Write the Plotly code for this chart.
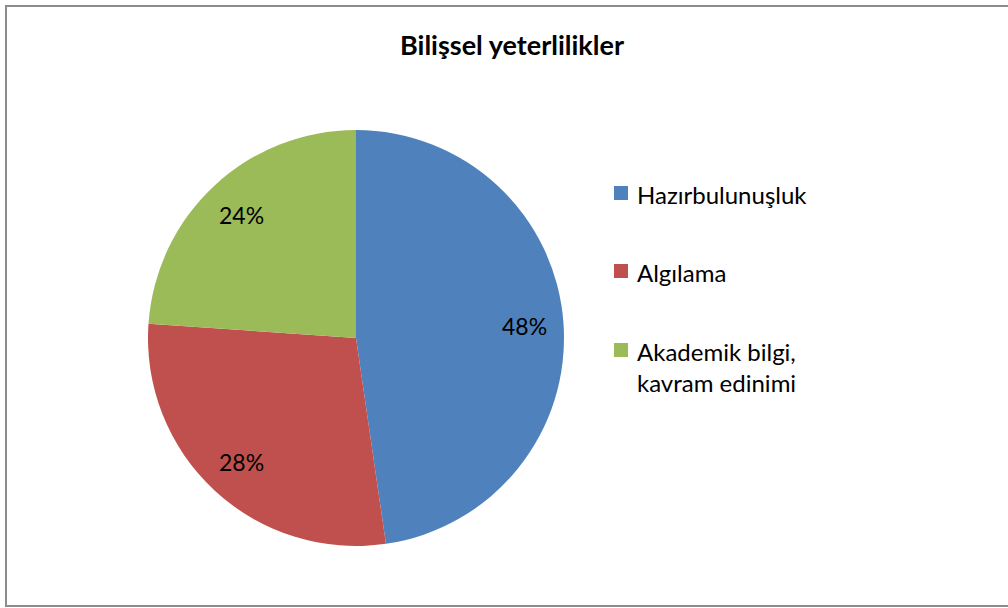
import math
import plotly.graph_objects as go

labels = ["Hazırbulunuşluk", "Algılama", "Akademik bilgi,<br>kavram edinimi"]
values = [47.7, 28.4, 23.9]
colors = ["#4F81BD", "#C0504D", "#9BBB59"]
title = "Bilişsel yeterlilikler"

W, H = 1008, 608
FONT = "Lato, Open Sans, sans-serif"

# pie geometry (pixels)
CX, CY, R = 356, 338, 208

fig = go.Figure(go.Pie(
    labels=labels, values=values, sort=False, direction="clockwise", rotation=0,
    marker=dict(colors=colors, line=dict(width=0)),
    textinfo="none",
    domain=dict(x=[(CX - R) / W, (CX + R) / W], y=[1 - (CY + R) / H, 1 - (CY - R) / H]),
    showlegend=False, hoverinfo="label+percent",
))

# percentage labels placed at mid-angle of each slice
total = sum(values)
cum = 0.0
for v in values:
    mid = (cum + v / 2) / total * 2 * math.pi
    cum += v
    px = CX + 0.81 * R * math.sin(mid)
    py = CY - 0.81 * R * math.cos(mid)
    fig.add_annotation(xref="paper", yref="paper", x=px / W, y=1 - py / H,
                       xanchor="center", yanchor="middle", showarrow=False,
                       text=f"{round(v / total * 100)}%",
                       font=dict(family=FONT, size=23, color="black"))

# legend built from data lists
legend_y = [193, 271, 350]
for lab, col, yy in zip(labels, colors, legend_y):
    fig.add_shape(type="rect", xref="paper", yref="paper",
                  x0=614 / W, x1=628 / W, y0=1 - (yy + 7) / H, y1=1 - (yy - 7) / H,
                  fillcolor=col, line=dict(width=0))
    fig.add_annotation(xref="paper", yref="paper", x=635 / W, y=1 - (yy - 15) / H,
                       xanchor="left", yanchor="top", align="left", showarrow=False,
                       text=lab, font=dict(family=FONT, size=24, color="black"))

fig.add_shape(type="rect", xref="paper", yref="paper",
              x0=6 / W, x1=1012 / W, y0=1 - 606 / H, y1=1 - 6 / H,
              line=dict(color="#8C8C8C", width=2))

fig.update_layout(
    width=W, height=H, margin=dict(l=0, r=0, t=0, b=0),
    paper_bgcolor="white", plot_bgcolor="white",
    title=dict(text="<b>" + title + "</b>", x=512 / W, xanchor="center",
               y=1 - 46 / H, yanchor="middle",
               font=dict(family=FONT, size=27, color="black")),
)

fig.write_html("out.html", config={"displayModeBar": False},
               post_script="document.body.style.margin='0';")
